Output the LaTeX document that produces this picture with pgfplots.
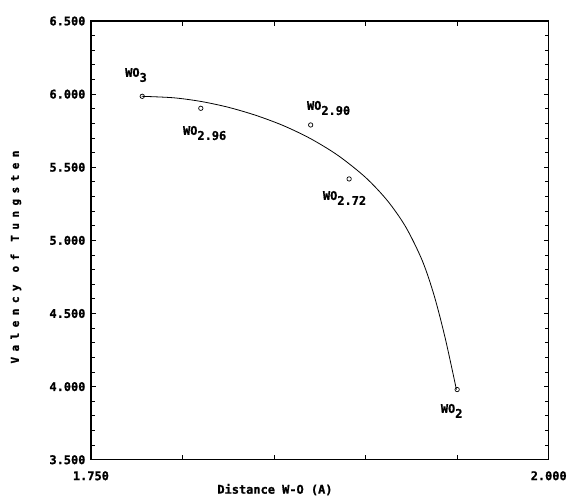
\documentclass[border=0pt]{standalone}
\usepackage{fontspec}
\setmainfont{DejaVu Sans Mono}[BoldFeatures={FakeBold=1.2}]
\newfontfamily\ylabfont{DejaVu Sans Mono}[LetterSpace=50, BoldFeatures={FakeBold=1.5}]
\usepackage{pgfplots}
\pgfplotsset{compat=1.18}
\newcommand{\lab}[2]{{\bfseries\fontsize{12}{12}\selectfont #1\raisebox{-5bp}{#2}}}
\begin{document}
\begin{tikzpicture}
\begin{axis}[
  scale only axis, width=458bp, height=439bp,
  xmin=1.75, xmax=2.0, ymin=3.5, ymax=6.5,
  xtick={1.75,1.8,1.85,1.9,1.95,2.0},
  xticklabels={1.750,,,,,2.000},
  ytick={3.5,4,4.5,5,5.5,6,6.5},
  yticklabels={3.500,4.000,4.500,5.000,5.500,6.000,6.500},
  minor y tick num=4,
  tick align=inside,
  major tick length=5bp, minor tick length=4bp,
  every tick/.style={black, line width=0.9pt},
  axis line style={line width=1.3pt},
  ticklabel style={font=\bfseries\fontsize{12}{12}\selectfont},
  /pgf/number format/assume math mode=true,
  xticklabel style={yshift=-8bp},
  yticklabel style={xshift=-2bp},
  xlabel={Distance W-O (A)},
  xlabel style={at={(axis description cs:0.402,-0.068)}, anchor=center, font=\bfseries\fontsize{12}{12}\selectfont},
  ylabel={\ylabfont\bfseries\fontsize{11}{11}\selectfont Valency of Tungsten},
  ylabel style={at={(axis description cs:-0.164,0.462)}, anchor=center},
  clip=false,
]
\addplot[black, line width=0.8pt, smooth, tension=0.5] coordinates {
  (1.7777,5.985) (1.795,5.975) (1.810,5.950) (1.825,5.910) (1.840,5.855)
  (1.855,5.785) (1.870,5.695) (1.885,5.580) (1.900,5.430) (1.912,5.270)
  (1.922,5.090) (1.931,4.860) (1.9375,4.620) (1.9435,4.330) (1.9496,3.980)
};
\addplot[only marks, mark=o, mark size=2.2bp, mark options={line width=0.7pt, black}] coordinates {
  (1.778,5.985) (1.810,5.903) (1.870,5.789) (1.891,5.42) (1.950,3.98)
};
\node[anchor=west, inner sep=0pt] at (axis cs:1.7686,6.131) {\lab{WO}{3}};
\node[anchor=west, inner sep=0pt] at (axis cs:1.8002,5.734) {\lab{WO}{2.96}};
\node[anchor=west, inner sep=0pt] at (axis cs:1.8679,5.905) {\lab{WO}{2.90}};
\node[anchor=west, inner sep=0pt] at (axis cs:1.8766,5.29) {\lab{WO}{2.72}};
\node[anchor=west, inner sep=0pt] at (axis cs:1.9410,3.834) {\lab{WO}{2}};
\end{axis}
\path ([shift={(-91bp,-36bp)}]current axis.south west) rectangle ([shift={(21bp,21bp)}]current axis.north east);
\end{tikzpicture}
\end{document}
